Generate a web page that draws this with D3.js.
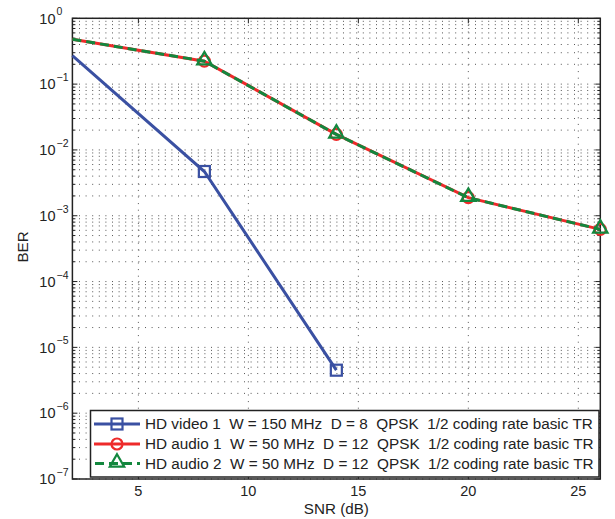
<!DOCTYPE html>
<html><head><meta charset="utf-8">
<script src="https://cdn.jsdelivr.net/npm/d3@7"></script>
<style>
body{margin:0;background:#fff;}
svg{font-family:"Liberation Sans",Arial,sans-serif;}
</style></head>
<body><svg id="c" width="615" height="519"></svg>
<script>
// ---- data ----
const snrVideo = [2, 8, 14];
const berVideo1 = [0.27, 4.7e-3, 4.5e-6];
const snrAudio = [2, 8, 14, 20, 26];
const berAudio1 = [0.48, 0.223, 0.0172, 1.88e-3, 6.2e-4];
const berAudio2 = [0.48, 0.223, 0.0172, 1.88e-3, 6.2e-4];
const xTicks = [5, 10, 15, 20, 25];
const yExponents = [0, -1, -2, -3, -4, -5, -6, -7];
const legendLabels = [
  "HD video 1  W = 150 MHz  D = 8  QPSK  1/2 coding rate basic TR",
  "HD audio 1  W = 50 MHz  D = 12  QPSK  1/2 coding rate basic TR",
  "HD audio 2  W = 50 MHz  D = 12  QPSK  1/2 coding rate basic TR"
];

const L = 72.4, R = 600.3, T = 18.3, B = 479;
const svg = d3.select("#c");
const x = d3.scaleLinear().domain([2, 26]).range([L, R]);
const y = d3.scaleLog().domain([1e-7, 1]).range([B, T]);

const blue = "#3a50a2", red = "#ee2a2a", green = "#13873e";

// grid
const g = svg.append("g");
const minorY = [];
for (let e = -7; e < 0; e++) for (let m = 1; m <= 9; m++) minorY.push(m * Math.pow(10, e));
minorY.push(1);
g.selectAll("line.gy").data(minorY).enter().append("line")
  .attr("x1", L).attr("x2", R).attr("y1", d => y(d)).attr("y2", d => y(d))
  .attr("stroke", "#555").attr("stroke-width", 1).attr("stroke-dasharray", "1,5.6");
g.selectAll("line.gx").data(xTicks).enter().append("line")
  .attr("x1", d => x(d)).attr("x2", d => x(d)).attr("y1", T).attr("y2", B)
  .attr("stroke", "#555").attr("stroke-width", 1).attr("stroke-dasharray", "1,5.6");

// ticks inside
const tk = svg.append("g").attr("stroke", "#222").attr("stroke-width", 1);
minorY.forEach(d => {
  const major = Math.abs(Math.log10(d) - Math.round(Math.log10(d))) < 1e-9;
  const len = major ? 5 : 3;
  tk.append("line").attr("x1", L).attr("x2", L + len).attr("y1", y(d)).attr("y2", y(d));
  tk.append("line").attr("x1", R - len).attr("x2", R).attr("y1", y(d)).attr("y2", y(d));
});
xTicks.forEach(d => {
  tk.append("line").attr("x1", x(d)).attr("x2", x(d)).attr("y1", B).attr("y2", B - 5);
  tk.append("line").attr("x1", x(d)).attr("x2", x(d)).attr("y1", T).attr("y2", T + 5);
});

// axis box
svg.append("rect").attr("x", L).attr("y", T).attr("width", R - L).attr("height", B - T)
  .attr("fill", "none").attr("stroke", "#222").attr("stroke-width", 1.5);

// tick labels
svg.append("g").selectAll("text").data(xTicks).enter().append("text")
  .attr("x", d => x(d)).attr("y", 495.5).attr("text-anchor", "middle")
  .attr("font-size", 14.5).attr("fill", "#222").text(d => d);
svg.append("g").selectAll("text").data(yExponents).enter().append("text")
  .attr("x", 55.5).attr("y", d => y(Math.pow(10, d)) + 5.3).attr("font-size", 14.5).attr("fill", "#222")
  .attr("text-anchor", "end").text("10");
svg.append("g").selectAll("text").data(yExponents).enter().append("text")
  .attr("x", 56.5).attr("y", d => y(Math.pow(10, d)) - 3).attr("font-size", 10.5).attr("fill", "#222")
  .text(d => d === 0 ? "0" : "\u2212" + Math.abs(d));

// axis labels
svg.append("text").attr("x", x(14)).attr("y", 514).attr("text-anchor", "middle")
  .attr("font-size", 15.2).attr("fill", "#222").text("SNR (dB)");
svg.append("text").attr("transform", "translate(28,247) rotate(-90)").attr("text-anchor", "middle")
  .attr("font-size", 15.2).attr("fill", "#222").text("BER");

// lines
const plot = svg.append("g");
const line = d3.line().x(d => x(d[0])).y(d => y(d[1]));
const a1 = snrAudio.map((s, i) => [s, berAudio1[i]]);
const a2 = snrAudio.map((s, i) => [s, berAudio2[i]]);
const v1 = snrVideo.map((s, i) => [s, berVideo1[i]]);

plot.append("path").datum(a1).attr("d", line).attr("fill", "none").attr("stroke", red).attr("stroke-width", 3);
plot.selectAll("circle.a1").data(a1.slice(1)).enter().append("circle")
  .attr("cx", d => x(d[0])).attr("cy", d => y(d[1])).attr("r", 5.5)
  .attr("fill", "none").attr("stroke", red).attr("stroke-width", 2.2);
plot.append("path").datum(a2).attr("d", line).attr("fill", "none").attr("stroke", green)
  .attr("stroke-width", 3).attr("stroke-dasharray", "9,5");
const tri = d3.symbol().type(d3.symbolTriangle).size(90);
plot.selectAll("path.a2").data(a2.slice(1)).enter().append("path")
  .attr("d", tri).attr("transform", d => `translate(${x(d[0])},${y(d[1]) - 1})`)
  .attr("fill", "none").attr("stroke", green).attr("stroke-width", 2.2);
plot.append("path").datum(v1).attr("d", line).attr("fill", "none").attr("stroke", blue).attr("stroke-width", 3);
plot.selectAll("rect.v1").data(v1.slice(1)).enter().append("rect")
  .attr("x", d => x(d[0]) - 5.5).attr("y", d => y(d[1]) - 5.5).attr("width", 11).attr("height", 11)
  .attr("fill", "none").attr("stroke", blue).attr("stroke-width", 2.2);

// legend
const lg = svg.append("g");
lg.append("rect").attr("x", 90.5).attr("y", 410.5).attr("width", 508.5).attr("height", 66.5)
  .attr("fill", "#fff").attr("stroke", "#222").attr("stroke-width", 1.5);
const rows = [424, 444, 463.5];
const cols = [blue, red, green];
rows.forEach((ry, i) => {
  const ln = lg.append("line").attr("x1", 94).attr("x2", 140).attr("y1", ry).attr("y2", ry)
    .attr("stroke", cols[i]).attr("stroke-width", 3);
  if (i === 2) ln.attr("stroke-dasharray", "9,5").attr("x1", 95).attr("stroke-dashoffset", 0);
  if (i === 0) lg.append("rect").attr("x", 117 - 5.5).attr("y", ry - 5.5).attr("width", 11).attr("height", 11)
    .attr("fill", "none").attr("stroke", blue).attr("stroke-width", 2.2);
  if (i === 1) lg.append("circle").attr("cx", 117).attr("cy", ry).attr("r", 5.5)
    .attr("fill", "none").attr("stroke", red).attr("stroke-width", 2.2);
  if (i === 2) lg.append("path").attr("d", tri).attr("transform", `translate(117,${ry - 1})`)
    .attr("fill", "none").attr("stroke", green).attr("stroke-width", 2.2);
  lg.append("text").attr("x", 145).attr("y", ry + 5.3).attr("font-size", 15.3).attr("fill", "#222")
    .style("white-space", "pre").text(legendLabels[i]);
});
</script></body></html>
